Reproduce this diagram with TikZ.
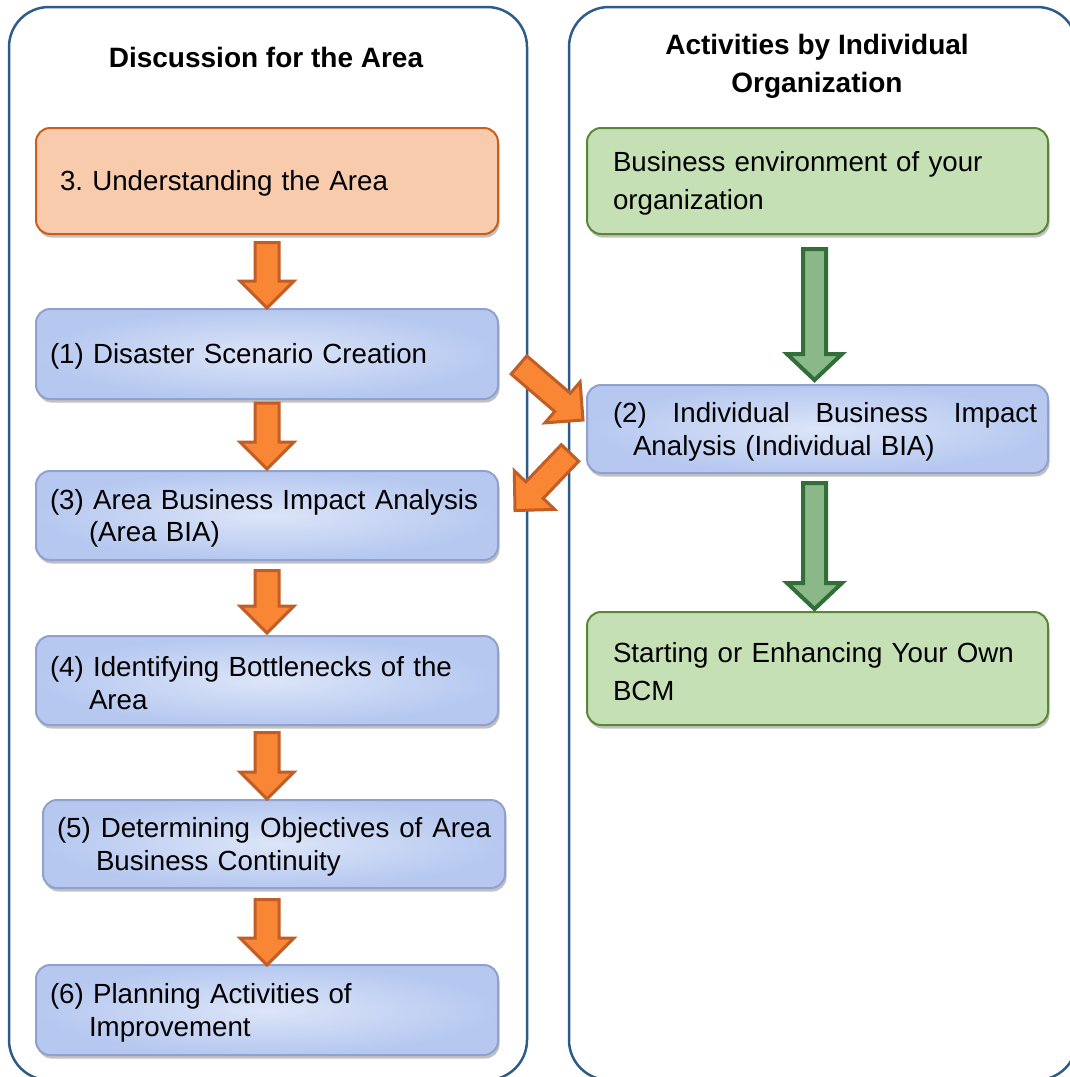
\documentclass[tikz,border=0pt]{standalone}
\usepackage{fontspec}
\setmainfont{Liberation Sans}
\usetikzlibrary{calc,shadows}
\frenchspacing

\definecolor{panelblue}{RGB}{46,92,138}
\definecolor{orangefill}{RGB}{248,203,173}
\definecolor{orangeline}{RGB}{200,95,30}
\definecolor{bluecenter}{RGB}{220,229,248}
\definecolor{blueedge}{RGB}{182,200,240}
\definecolor{blueline}{RGB}{143,161,204}
\definecolor{greenfill}{RGB}{197,224,180}
\definecolor{greenline}{RGB}{90,135,55}
\definecolor{arrowfill}{RGB}{248,134,52}
\definecolor{arrowline}{RGB}{193,93,37}
\definecolor{garrowfill}{RGB}{139,184,137}
\definecolor{garrowline}{RGB}{49,110,56}

% block arrow: style, tail point, tip point, shaft half width, head half width, head length
\newcommand\fatarrow[6]{%
  \draw[#1] let \p{s}=(#2), \p{e}=(#3),
      \n{a}={atan2(\y{e}-\y{s},\x{e}-\x{s})},
      \n{l}={veclen(\x{e}-\x{s},\y{e}-\y{s})-#6} in
    ($(\p{s})+(\n{a}+90:#4)$)
    -- ($(\p{s})+(\n{a}:{\n{l}*1pt})+(\n{a}+90:#4)$)
    -- ($(\p{s})+(\n{a}:{\n{l}*1pt})+(\n{a}+90:#5)$)
    -- (\p{e})
    -- ($(\p{s})+(\n{a}:{\n{l}*1pt})+(\n{a}-90:#5)$)
    -- ($(\p{s})+(\n{a}:{\n{l}*1pt})+(\n{a}-90:#4)$)
    -- ($(\p{s})+(\n{a}-90:#4)$)
    -- cycle;}

\tikzset{
  panel/.style={draw=panelblue, line width=2.5pt, rounded corners=40pt, fill=white,
    minimum height=1073pt},
  boxbase/.style={rounded corners=14pt, line width=2pt, inner xsep=0pt, inner ysep=0pt,
    align=left, font=\fontsize{27.7}{32.5}\selectfont,
    execute at begin node={\rule{0pt}{25.5pt}},
    drop shadow={shadow xshift=1.5pt, shadow yshift=-3.5pt, fill=black!60, opacity=0.4}},
  orangebox/.style={boxbase, draw=orangeline, fill=orangefill,
    text width=414pt, minimum width=462pt},
  bluebox/.style={boxbase, draw=blueline, shading=radial, inner color=bluecenter,
    outer color=blueedge, text width=434pt, minimum width=462pt},
  greenbox/.style={boxbase, draw=greenline, fill=greenfill, text width=409pt,
    minimum width=461pt, font=\fontsize{27.7}{38}\selectfont},
  paneltitle/.style={font=\bfseries\fontsize{28}{38}\selectfont, inner sep=0pt, align=center},
  orangearrow/.style={fill=arrowfill, draw=arrowline, line width=3pt, line join=miter},
  greenarrow/.style={fill=garrowfill, draw=garrowline, line width=4pt, line join=miter}
}

\begin{document}
\begin{tikzpicture}[x=1pt, y=-1pt]
\useasboundingbox (0,0) rectangle (1070,1077);
\clip (0,0) rectangle (1070,1077);

% the two columns
\node[panel, minimum width=518pt] (lp) at (268,543.5) {};
\node[panel, minimum width=508pt] (rp) at (823,543.5) {};

\node[paneltitle, anchor=base] (lt) at (266,67) {Discussion for the Area};
\node[paneltitle] (rt) at (817,66) {Activities by Individual\\Organization};

% left column: area discussion
\node[orangebox, minimum height=106pt] (u) at (267,181) {3. Understanding the Area};
\node[bluebox, minimum height=90pt] (b1) at (267,354) {(1) Disaster Scenario Creation};
\node[bluebox, minimum height=89pt] (b3) at (267,515.5)
  {(3) Area Business Impact Analysis\\\hspace*{39pt}(Area BIA)};
\node[bluebox, minimum height=89pt] (b4) at (267,680.5)
  {(4) Identifying Bottlenecks of the\\\hspace*{39pt}Area};
\node[bluebox, minimum height=88pt] (b5) at (274,844)
  {\hbox to 434pt{(5)\hfill Determining\hfill Objectives\hfill of\hfill Area}\\\hspace*{39pt}Business Continuity};
\node[bluebox, minimum height=90pt] (b6) at (267,1010)
  {(6) Planning Activities of\\\hspace*{39pt}Improvement};

% right column: individual organization
\node[greenbox, minimum height=106pt] (g1) at (817.5,181)
  {Business environment of your\\organization};
\node[bluebox, text width=409pt, minimum width=461pt, minimum height=88pt] (b2) at (817.5,429)
  {\hbox to 424pt{(2)\hfill Individual\hfill Business\hfill Impact}\\\hspace*{20pt}Analysis (Individual BIA)};
\node[greenbox, minimum height=113pt] (g2) at (817.5,668.5)
  {Starting or Enhancing Your Own\\BCM};

% flow arrows in the left column
\fatarrow{orangearrow}{$(u.south)+(0,7.5)$}{b1.north}{12pt}{27pt}{27pt}
\fatarrow{orangearrow}{$(b1.south)+(0,3)$}{$(b3.north)+(0,-1)$}{12pt}{27pt}{27pt}
\fatarrow{orangearrow}{$(b3.south)+(0,9.5)$}{$(b4.north)+(0,-2)$}{12pt}{27pt}{27pt}
\fatarrow{orangearrow}{$(b4.south)+(0,6.5)$}{$(b5.north)+(-7,0)$}{12pt}{27pt}{27pt}
\fatarrow{orangearrow}{$(b5.south)+(-7,10.5)$}{$(b6.north)+(0,1)$}{12pt}{27pt}{27pt}

% exchange between the columns
\fatarrow{orangearrow}{$(b1.east)+(20,11)$}{$(b2.west)+(-3,-9)$}{12pt}{27pt}{27pt}
\fatarrow{orangearrow}{$(b2.west)+(-16,24)$}{$(b3.east)+(16,-5)$}{12pt}{28pt}{28pt}

% flow arrows in the right column
\fatarrow{greenarrow}{$(g1.south)+(-3,14)$}{$(b2.north)+(-3,-4)$}{11.5pt}{27.5pt}{26pt}
\fatarrow{greenarrow}{$(b2.south)+(-3,9)$}{$(g2.north)+(-3,-2)$}{11.5pt}{27.5pt}{26pt}
\end{tikzpicture}
\end{document}
